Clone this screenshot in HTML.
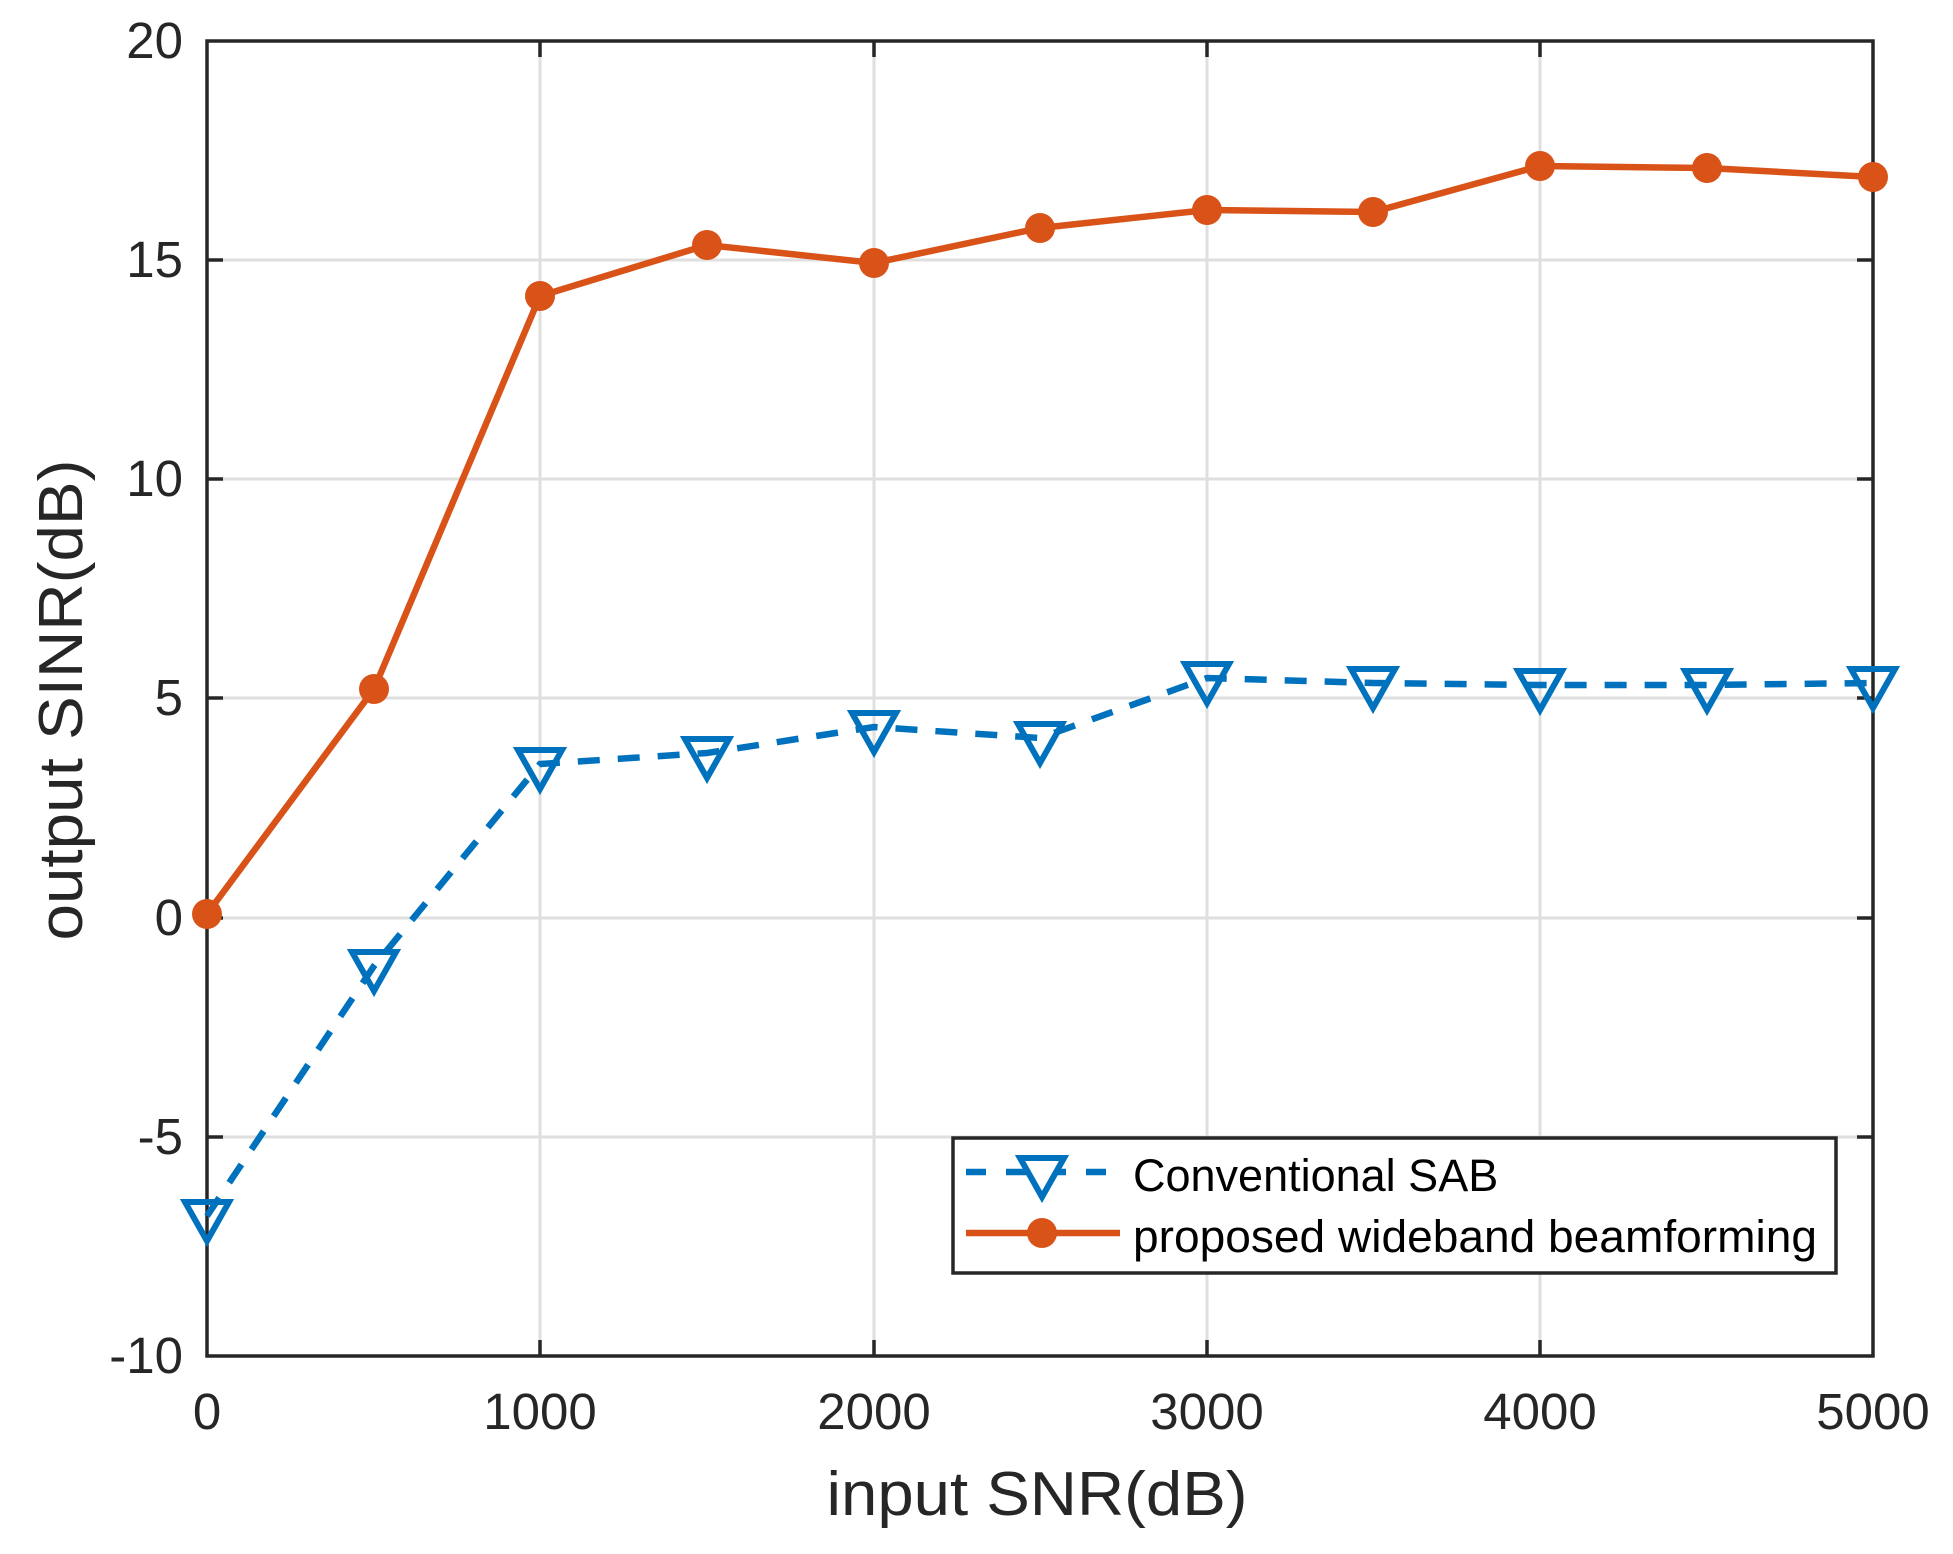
<!DOCTYPE html>
<html><head><meta charset="utf-8"><style>html,body{margin:0;padding:0;background:#fff}svg{display:block}</style></head>
<body>
<svg width="1953" height="1554" viewBox="0 0 1953 1554" xmlns="http://www.w3.org/2000/svg" font-family="Liberation Sans, Arial, sans-serif">
<rect width="1953" height="1554" fill="#fff"/>
<g stroke="#dfdfdf" stroke-width="3">
<line x1="540" y1="41" x2="540" y2="1356"/><line x1="874" y1="41" x2="874" y2="1356"/><line x1="1207" y1="41" x2="1207" y2="1356"/><line x1="1540" y1="41" x2="1540" y2="1356"/>
<line x1="207" y1="260" x2="1873" y2="260"/><line x1="207" y1="479" x2="1873" y2="479"/><line x1="207" y1="698" x2="1873" y2="698"/><line x1="207" y1="918" x2="1873" y2="918"/><line x1="207" y1="1137" x2="1873" y2="1137"/>
</g>
<g stroke="#262626" stroke-width="3.5">
<rect x="207" y="41" width="1666" height="1315" fill="none"/>
<path d="M540 41v16M874 41v16M1207 41v16M1540 41v16M540 1356v-16M874 1356v-16M1207 1356v-16M1540 1356v-16"/>
<path d="M207 260h16M207 479h16M207 698h16M207 918h16M207 1137h16M1873 260h-16M1873 479h-16M1873 698h-16M1873 918h-16M1873 1137h-16"/>
</g>
<g fill="#262626" font-size="51" text-anchor="end">
<text x="183" y="58">20</text><text x="183" y="277">15</text><text x="183" y="496">10</text><text x="183" y="715">5</text><text x="183" y="935">0</text><text x="183" y="1154">-5</text><text x="183" y="1373">-10</text>
</g>
<g fill="#262626" font-size="51" text-anchor="middle">
<text x="207" y="1429">0</text><text x="540" y="1429">1000</text><text x="874" y="1429">2000</text><text x="1207" y="1429">3000</text><text x="1540" y="1429">4000</text><text x="1873" y="1429">5000</text>
</g>
<text x="1037" y="1515" fill="#262626" font-size="62" text-anchor="middle" textLength="421" lengthAdjust="spacingAndGlyphs">input SNR(dB)</text>
<text transform="translate(82,700) rotate(-90)" fill="#262626" font-size="62" text-anchor="middle" textLength="481" lengthAdjust="spacingAndGlyphs">output SINR(dB)</text>
<polyline fill="none" stroke="#0072BD" stroke-width="6.5" stroke-dasharray="22,18" points="207,1216 374,966 540,764 707,753 874,727 1040,738 1207,678 1373,683 1540,685 1707,685 1873,683"/>
<g fill="none" stroke="#0072BD" stroke-width="6" stroke-linejoin="miter">
<path d="M-22,-14 L22,-14 L0,25 Z" transform="translate(207,1216)"/>
<path d="M-22,-14 L22,-14 L0,25 Z" transform="translate(374,966)"/>
<path d="M-22,-14 L22,-14 L0,25 Z" transform="translate(540,764)"/>
<path d="M-22,-14 L22,-14 L0,25 Z" transform="translate(707,753)"/>
<path d="M-22,-14 L22,-14 L0,25 Z" transform="translate(874,727)"/>
<path d="M-22,-14 L22,-14 L0,25 Z" transform="translate(1040,738)"/>
<path d="M-22,-14 L22,-14 L0,25 Z" transform="translate(1207,678)"/>
<path d="M-22,-14 L22,-14 L0,25 Z" transform="translate(1373,683)"/>
<path d="M-22,-14 L22,-14 L0,25 Z" transform="translate(1540,685)"/>
<path d="M-22,-14 L22,-14 L0,25 Z" transform="translate(1707,685)"/>
<path d="M-22,-14 L22,-14 L0,25 Z" transform="translate(1873,683)"/>
</g>
<polyline fill="none" stroke="#D95319" stroke-width="6.5" points="207,914 374,689 540,296 707,245 874,263 1040,228 1207,210 1373,212 1540,166 1707,168 1873,177"/>
<g fill="#D95319">
<circle cx="207" cy="914" r="15"/><circle cx="374" cy="689" r="15"/><circle cx="540" cy="296" r="15"/><circle cx="707" cy="245" r="15"/><circle cx="874" cy="263" r="15"/><circle cx="1040" cy="228" r="15"/><circle cx="1207" cy="210" r="15"/><circle cx="1373" cy="212" r="15"/><circle cx="1540" cy="166" r="15"/><circle cx="1707" cy="168" r="15"/><circle cx="1873" cy="177" r="15"/>
</g>
<rect x="953" y="1138" width="883" height="135" fill="#fff" stroke="#262626" stroke-width="3.5"/>
<line x1="966" y1="1172" x2="1120" y2="1172" stroke="#0072BD" stroke-width="6.5" stroke-dasharray="20,20"/>
<path d="M-22,-14 L22,-14 L0,25 Z" transform="translate(1042,1172)" fill="#fff" stroke="#0072BD" stroke-width="6"/>
<line x1="966" y1="1233" x2="1120" y2="1233" stroke="#D95319" stroke-width="6.5"/>
<circle cx="1042" cy="1233" r="15" fill="#D95319"/>
<text x="1133" y="1191" font-size="45" fill="#000">Conventional SAB</text>
<text x="1133" y="1252" font-size="45" fill="#000" textLength="684" lengthAdjust="spacingAndGlyphs">proposed wideband beamforming</text>
</svg>
</body></html>
